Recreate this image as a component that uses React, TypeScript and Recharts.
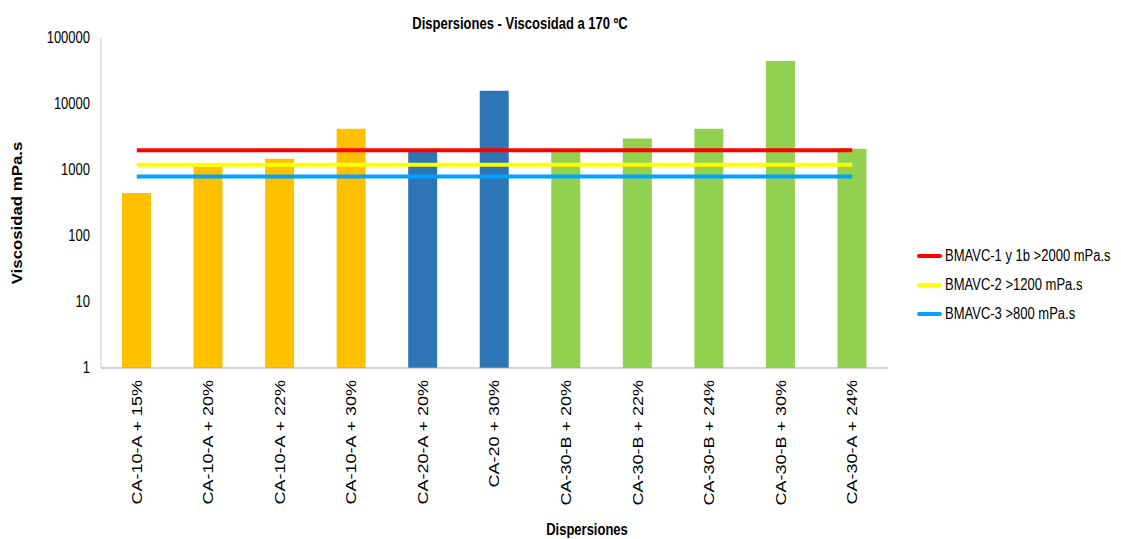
import { ComposedChart, Bar, Line, XAxis, YAxis, Cell, Legend } from 'recharts';

const categories = [
  'CA-10-A + 15%',
  'CA-10-A + 20%',
  'CA-10-A + 22%',
  'CA-10-A + 30%',
  'CA-20-A + 20%',
  'CA-20 + 30%',
  'CA-30-B + 20%',
  'CA-30-B + 22%',
  'CA-30-B + 24%',
  'CA-30-B + 30%',
  'CA-30-A + 24%',
];
const viscosity = [450, 1130, 1480, 4200, 1900, 15900, 1900, 3000, 4200, 45000, 2100];
const bmavc1 = [2000, 2000, 2000, 2000, 2000, 2000, 2000, 2000, 2000, 2000, 2000];
const bmavc2 = [1200, 1200, 1200, 1200, 1200, 1200, 1200, 1200, 1200, 1200, 1200];
const bmavc3 = [800, 800, 800, 800, 800, 800, 800, 800, 800, 800, 800];
const yTicks = [1, 10, 100, 1000, 10000, 100000];

const ORANGE = '#FFC000';
const BLUE = '#2E75B6';
const GREEN = '#92D050';
const barColors = [ORANGE, ORANGE, ORANGE, ORANGE, BLUE, BLUE, GREEN, GREEN, GREEN, GREEN, GREEN];

const data = categories.map((name, i) => ({
  name,
  viscosity: viscosity[i],
  bmavc1: bmavc1[i],
  bmavc2: bmavc2[i],
  bmavc3: bmavc3[i],
}));

const FONT = '"Liberation Sans", Arial, sans-serif';

// excel export is stretched vertically, so text gets scaled to match
const XTick = (props: any) => {
  const { x, y, payload } = props;
  return (
    <g transform={`translate(${x},${y})`}>
      <text
        transform="rotate(-90) scale(1.2,1)"
        textAnchor="end"
        dominantBaseline="central"
        fontSize={15}
        fontFamily={FONT}
        fill="#000"
      >
        {payload.value}
      </text>
    </g>
  );
};

const YTick = (props: any) => {
  const { x, y, payload } = props;
  return (
    <g transform={`translate(${x},${y})`}>
      <text
        transform="scale(1,1.2)"
        textAnchor="end"
        dominantBaseline="central"
        fontSize={13}
        fontFamily={FONT}
        fill="#000"
      >
        {payload.value}
      </text>
    </g>
  );
};

const renderLegend = (props: any) => {
  const items = (props.payload || []).filter((entry: any) => entry.type !== 'none' && entry.dataKey !== 'viscosity');
  return (
    <div style={{ fontFamily: FONT }}>
      {items.map((entry: any) => (
        <div key={entry.value} style={{ display: 'flex', alignItems: 'center', height: 29 }}>
          <span style={{ display: 'inline-block', width: 25, height: 4, borderRadius: 2, background: entry.color, marginRight: 3 }} />
          <span style={{ display: 'inline-block', fontSize: 13, transform: 'scale(1,1.2)', whiteSpace: 'nowrap' }}>
            {entry.value}
          </span>
        </div>
      ))}
    </div>
  );
};

const textStyle = {
  position: 'absolute' as const,
  fontFamily: FONT,
  fontWeight: 'bold' as const,
  whiteSpace: 'nowrap' as const,
  color: '#000',
};

export default function App() {
  return (
    <div style={{ position: 'absolute', left: 0, top: 0, width: 1121, height: 539, background: '#fff' }}>
      <ComposedChart width={1121} height={539} data={data} margin={{ top: 38, right: 233, bottom: 0, left: 0 }}>
        <XAxis
          dataKey="name"
          interval={0}
          height={171}
          tickLine={false}
          tickMargin={6}
          stroke="#A6A6A6"
          tick={<XTick />}
        />
        <YAxis
          scale="log"
          domain={[1, 100000]}
          ticks={yTicks}
          allowDataOverflow
          width={101}
          tickLine={false}
          tickMargin={5}
          stroke="#C8C8C8"
          tick={<YTick />}
        />
        <Bar dataKey="viscosity" barSize={29} isAnimationActive={false} legendType="none">
          {data.map((d, i) => (
            <Cell key={d.name} fill={barColors[i]} />
          ))}
        </Bar>
        <Line type="linear" dataKey="bmavc1" name="BMAVC-1 y 1b >2000 mPa.s" stroke="#FF0000" strokeWidth={4} dot={false} isAnimationActive={false} />
        <Line type="linear" dataKey="bmavc2" name="BMAVC-2 >1200 mPa.s" stroke="#FFFF00" strokeWidth={4} dot={false} isAnimationActive={false} />
        <Line type="linear" dataKey="bmavc3" name="BMAVC-3 >800 mPa.s" stroke="#00A2FF" strokeWidth={4} dot={false} isAnimationActive={false} />
        <Legend
          layout="vertical"
          align="center"
          verticalAlign="middle"
          wrapperStyle={{ left: 917, top: 241, width: 'auto', height: 'auto' }}
          content={renderLegend}
        />
      </ComposedChart>
      <div style={{ ...textStyle, left: 520, top: 24, fontSize: 13, transform: 'translate(-50%,-50%) scale(1,1.2)' }}>
        Dispersiones - Viscosidad a 170 ºC
      </div>
      <div style={{ ...textStyle, left: 587, top: 530, fontSize: 13, transform: 'translate(-50%,-50%) scale(1,1.2)' }}>
        Dispersiones
      </div>
      <div style={{ ...textStyle, left: 17, top: 213, fontSize: 14, transform: 'translate(-50%,-50%) rotate(-90deg) scale(1.2,1)' }}>
        Viscosidad mPa.s
      </div>
    </div>
  );
}
